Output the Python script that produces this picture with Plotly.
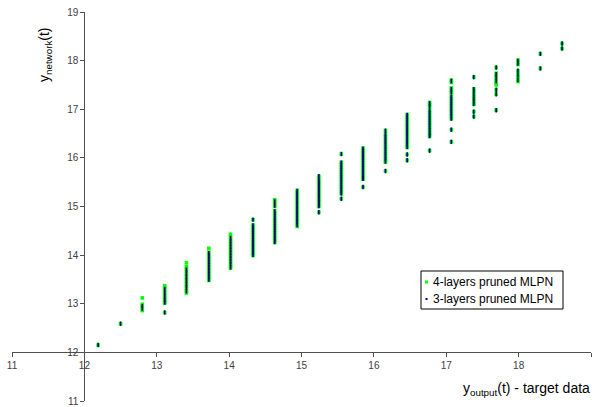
import plotly.graph_objects as go

# column x positions (target data values)
x_cols = [12.19, 12.50, 12.80, 13.11, 13.41, 13.72, 14.02, 14.33, 14.63, 14.94, 15.24,
          15.55, 15.85, 16.16, 16.46, 16.77, 17.07, 17.38, 17.69, 17.99, 18.30, 18.60]

# 4-layers pruned MLPN outputs per column
y4_cols = [
    [12.15],
    [12.59],
    [13.12, 12.99, 12.95, 12.91, 12.86],
    [13.37, 13.33, 13.28, 13.23, 13.18, 13.13, 13.08, 13.04, 13.01, 12.82],
    [13.84, 13.76, 13.71, 13.66, 13.61, 13.56, 13.51, 13.46, 13.41, 13.36, 13.31, 13.26, 13.22],
    [14.14, 14.06, 14.01, 13.96, 13.91, 13.86, 13.81, 13.76, 13.71, 13.66, 13.61, 13.56, 13.51, 13.48],
    [14.43, 14.37, 14.32, 14.27, 14.22, 14.17, 14.12, 14.07, 14.02, 13.97, 13.92, 13.87, 13.82, 13.77, 13.73],
    [14.73, 14.62, 14.57, 14.52, 14.47, 14.42, 14.37, 14.32, 14.27, 14.22, 14.17, 14.12, 14.07, 14.03, 13.99],
    [15.14, 15.09, 15.04, 15.00, 14.91, 14.86, 14.81, 14.76, 14.71, 14.66, 14.61, 14.56, 14.51, 14.46, 14.41, 14.36, 14.31, 14.26],
    [15.33, 15.28, 15.23, 15.18, 15.13, 15.08, 15.03, 14.98, 14.93, 14.88, 14.83, 14.78, 14.73, 14.68, 14.63, 14.59],
    [15.62, 15.55, 15.50, 15.45, 15.40, 15.35, 15.30, 15.25, 15.20, 15.15, 15.10, 15.05, 15.00, 14.88],
    [16.08, 15.91, 15.86, 15.81, 15.76, 15.71, 15.66, 15.61, 15.56, 15.51, 15.46, 15.41, 15.36, 15.31, 15.26, 15.16],
    [16.20, 16.15, 16.10, 16.05, 16.00, 15.95, 15.90, 15.85, 15.80, 15.75, 15.70, 15.65, 15.60, 15.56, 15.40],
    [16.56, 16.49, 16.44, 16.39, 16.34, 16.29, 16.24, 16.19, 16.14, 16.09, 16.04, 15.99, 15.94, 15.91, 15.73],
    [16.89, 16.84, 16.79, 16.74, 16.69, 16.64, 16.59, 16.54, 16.49, 16.44, 16.39, 16.34, 16.29, 16.24, 16.21, 16.07, 15.95],
    [17.14, 17.09, 17.05, 16.98, 16.93, 16.88, 16.83, 16.78, 16.73, 16.68, 16.63, 16.58, 16.53, 16.48, 16.44, 16.15],
    [17.60, 17.55, 17.44, 17.39, 17.34, 17.27, 17.22, 17.17, 17.12, 17.07, 17.02, 16.97, 16.92, 16.87, 16.80, 16.58, 16.33],
    [17.66, 17.42, 17.37, 17.32, 17.27, 17.22, 17.17, 17.12, 17.10, 16.95, 16.85],
    [17.86, 17.74, 17.69, 17.64, 17.59, 17.54, 17.50, 17.40, 17.31, 16.98],
    [18.01, 17.96, 17.92, 17.79, 17.72, 17.67, 17.62, 17.57],
    [18.14, 17.84],
    [18.35, 18.25],
]

# 3-layers pruned MLPN outputs per column
y3_cols = [
    [12.15],
    [12.59],
    [12.95, 12.90],
    [13.30, 13.22, 13.15, 13.08, 13.03, 12.82],
    [13.70, 13.62, 13.55, 13.48, 13.40, 13.33, 13.26],
    [14.04, 13.98, 13.92, 13.86, 13.80, 13.74, 13.68, 13.62, 13.56, 13.50],
    [14.35, 14.29, 14.23, 14.17, 14.11, 14.05, 13.99, 13.93, 13.87, 13.81, 13.75],
    [14.73, 14.61, 14.56, 14.51, 14.46, 14.41, 14.36, 14.31, 14.26, 14.21, 14.16, 14.11, 14.06, 14.01],
    [15.10, 15.02, 14.90, 14.85, 14.80, 14.75, 14.70, 14.65, 14.60, 14.55, 14.50, 14.45, 14.40, 14.35, 14.30, 14.27],
    [15.32, 15.27, 15.22, 15.17, 15.12, 15.07, 15.02, 14.97, 14.92, 14.87, 14.82, 14.77, 14.72, 14.67, 14.62],
    [15.62, 15.54, 15.49, 15.44, 15.39, 15.34, 15.29, 15.24, 15.19, 15.14, 15.09, 15.04, 15.01, 14.88],
    [16.08, 15.90, 15.85, 15.80, 15.75, 15.70, 15.65, 15.60, 15.55, 15.50, 15.45, 15.40, 15.35, 15.30, 15.27, 15.16],
    [16.19, 16.14, 16.09, 16.04, 15.99, 15.94, 15.89, 15.84, 15.79, 15.74, 15.69, 15.64, 15.59, 15.57, 15.40],
    [16.56, 16.48, 16.43, 16.38, 16.33, 16.28, 16.23, 16.18, 16.13, 16.08, 16.03, 15.98, 15.93, 15.73],
    [16.88, 16.83, 16.78, 16.73, 16.68, 16.63, 16.58, 16.53, 16.48, 16.43, 16.38, 16.33, 16.28, 16.23, 16.07, 15.95],
    [17.12, 17.06, 16.97, 16.92, 16.87, 16.82, 16.77, 16.72, 16.67, 16.62, 16.57, 16.52, 16.47, 16.45, 16.15],
    [17.58, 17.41, 17.36, 17.26, 17.21, 17.16, 17.11, 17.06, 17.01, 16.96, 16.91, 16.86, 16.81, 16.58, 16.33],
    [17.66, 17.41, 17.36, 17.31, 17.26, 17.21, 17.16, 17.11, 16.95, 16.85],
    [17.86, 17.72, 17.66, 17.58, 17.40, 17.31, 16.98],
    [17.99, 17.94, 17.79, 17.70, 17.60],
    [18.14, 17.84],
    [18.35, 18.25],
]

tick_vals = [11, 12, 13, 14, 15, 16, 17, 18, 19]
series_names = ["4-layers pruned MLPN", "3-layers pruned MLPN"]
green = "#00FF00"
navy = "#000080"


def flatten(xs, ycols):
    fx, fy = [], []
    for xv, col in zip(xs, ycols):
        for yv in col:
            fx.append(xv)
            fy.append(yv)
    return fx, fy


x4, y4 = flatten(x_cols, y4_cols)
x3, y3 = flatten(x_cols, y3_cols)

fig = go.Figure()
fig.add_trace(go.Scatter(x=x4, y=y4, mode="markers", name=series_names[0],
                         marker=dict(symbol="square", size=3.6, color=green, line=dict(width=0)),
                         showlegend=False))
fig.add_trace(go.Scatter(x=x3, y=y3, mode="markers", name=series_names[1],
                         marker=dict(symbol="line-ns", size=3.2, color=navy,
                                     line=dict(width=1.6, color=navy)),
                         showlegend=False))

W, H = 594, 407
ml, mr, mt, mb = 12, 3, 12, 6
pw, ph = W - ml - mr, H - mt - mb


def px(xpix):
    return (xpix - ml) / pw


def py(ypix):
    return 1 - (ypix - mt) / ph


axis_common = dict(
    range=[11, 19], tickvals=tick_vals, showgrid=False, zeroline=False,
    showline=True, linecolor="#505050", linewidth=1,
    ticks="outside", ticklen=4, tickcolor="#505050", tickwidth=1,
    tickfont=dict(family="Arial, Liberation Sans", size=10, color="#404040"),
    anchor="free", position=0.125, automargin=False, fixedrange=True,
)

fig.update_layout(
    width=W, height=H,
    margin=dict(l=ml, r=mr, t=mt, b=mb, pad=0),
    plot_bgcolor="white", paper_bgcolor="white",
    xaxis=dict(**axis_common),
    yaxis=dict(**axis_common),
    showlegend=False,
)

font_lbl = dict(family="Arial, Liberation Sans", size=14, color="black")
fig.add_annotation(x=px(45), y=py(55), xref="paper", yref="paper",
                   text="y<sub>network</sub>(t)", textangle=-90, showarrow=False,
                   font=font_lbl, xanchor="center", yanchor="middle")
fig.add_annotation(x=px(592), y=py(389), xref="paper", yref="paper",
                   text="y<sub>output</sub>(t) - target data", showarrow=False,
                   font=font_lbl, xanchor="right", yanchor="middle")

# legend box (manual)
fig.add_shape(type="rect", xref="paper", yref="paper",
              x0=px(421), x1=px(563), y0=py(309), y1=py(271),
              line=dict(color="black", width=1), fillcolor="white", layer="above")
fig.add_shape(type="rect", xref="paper", yref="paper", xsizemode="pixel", ysizemode="pixel",
              xanchor=px(426.5), yanchor=py(282), x0=-1.5, x1=1.5, y0=-1.5, y1=1.5,
              line=dict(width=0), fillcolor=green, layer="above")
fig.add_shape(type="rect", xref="paper", yref="paper", xsizemode="pixel", ysizemode="pixel",
              xanchor=px(426.5), yanchor=py(299), x0=-1, x1=1, y0=-1, y1=1,
              line=dict(width=0), fillcolor=navy, layer="above")
font_leg = dict(family="Arial, Liberation Sans", size=12, color="black")
fig.add_annotation(x=px(431), y=py(282), xref="paper", yref="paper", text=series_names[0],
                   showarrow=False, font=font_leg, xanchor="left", yanchor="middle")
fig.add_annotation(x=px(431), y=py(299), xref="paper", yref="paper", text=series_names[1],
                   showarrow=False, font=font_leg, xanchor="left", yanchor="middle")

fig.write_html("out.html")
